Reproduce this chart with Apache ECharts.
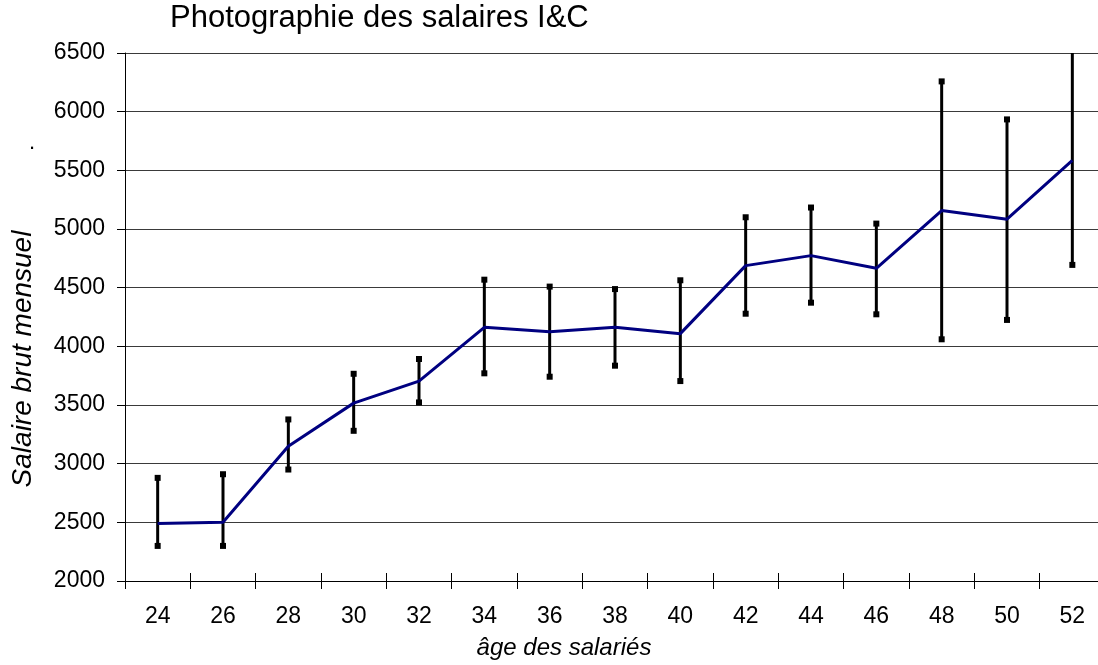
<!DOCTYPE html>
<html>
<head>
<meta charset="utf-8">
<script src="https://cdn.jsdelivr.net/npm/echarts@6/dist/echarts.min.js"></script>
<style>
  html, body { margin: 0; padding: 0; background: #fff; }
  #chart { width: 1098px; height: 665px; }
</style>
</head>
<body>
<div id="chart"></div>
<script>
// ages (categories)
const ages = ['24', '26', '28', '30', '32', '34', '36', '38', '40', '42', '44', '46', '48', '50', '52'];
// mean monthly gross salary
const salaireMoyen = [2490, 2501, 3149, 3516, 3704, 4162, 4125, 4162, 4108, 4688, 4773, 4665, 5157, 5084, 5584];
// error bars: low / high ends
const salaireBas = [2299, 2299, 2950, 3280, 3522, 3770, 3741, 3835, 3704, 4278, 4372, 4273, 4060, 4225, 4694];
const salaireHaut = [2879, 2910, 3377, 3766, 3892, 4568, 4509, 4488, 4563, 5100, 5183, 5046, 6258, 5934, 6700];
const yTicks = { min: 2000, max: 6500, step: 500 };

const font = 'Liberation Sans, Arial, sans-serif';

let barData = [];
for (let i = 0; i < ages.length; i++) {
  barData.push([i, salaireBas[i], salaireHaut[i]]);
}

const chart = echarts.init(document.getElementById('chart'));

chart.setOption({
  animation: false,
  backgroundColor: '#fff',
  // plot runs a little past the right edge of the picture
  grid: { left: 125, top: 53, width: 980, bottom: 84, outerBoundsMode: 'none', containLabel: false },
  graphic: [
    {
      type: 'text', left: 170, top: 3,
      style: { text: 'Photographie des salaires I&C', font: '31px ' + font, fill: '#000' }
    },
    {
      type: 'text', x: 564, y: 648,
      style: { text: 'âge des salariés', font: 'italic 24px ' + font, fill: '#000', align: 'center', verticalAlign: 'middle' }
    },
    {
      type: 'text', x: 23, y: 359, rotation: Math.PI / 2,
      style: { text: 'Salaire brut mensuel', font: 'italic 28px ' + font, fill: '#000', align: 'center', verticalAlign: 'middle' }
    },
    {
      type: 'text', x: 32, y: 143,
      style: { text: '.', font: '22px ' + font, fill: '#000', align: 'center', verticalAlign: 'middle' }
    }
  ],
  xAxis: [
    {
      type: 'category',
      data: ages,
      boundaryGap: true,
      axisLine: { lineStyle: { color: '#000', width: 1 } },
      axisTick: { show: true, length: 8, lineStyle: { color: '#000' } },
      axisLabel: { color: '#000', fontSize: 23, fontFamily: font, margin: 24 },
      splitLine: { show: false }
    },
    {
      type: 'category',
      data: ages,
      position: 'bottom',
      boundaryGap: true,
      axisLine: { show: false },
      axisTick: { show: true, inside: true, length: 8, lineStyle: { color: '#000' } },
      axisLabel: { show: false },
      splitLine: { show: false }
    }
  ],
  yAxis: {
    type: 'value',
    min: yTicks.min,
    max: yTicks.max,
    interval: yTicks.step,
    axisLine: { show: true, lineStyle: { color: '#000', width: 1 } },
    axisTick: { show: true, length: 8, lineStyle: { color: '#000' } },
    axisLabel: { color: '#000', fontSize: 23, fontFamily: font, margin: 20, formatter: v => String(v) },
    splitLine: { show: true, lineStyle: { color: '#3a3a3a', width: 1 } }
  },
  series: [
    {
      type: 'custom',
      clip: true,
      z: 2,
      data: barData,
      encode: { x: 0, y: [1, 2] },
      renderItem(params, api) {
        let lo = api.coord([api.value(0), api.value(1)]);
        let hi = api.coord([api.value(0), api.value(2)]);
        let s = 6;
        return {
          type: 'group',
          children: [
            { type: 'line', shape: { x1: lo[0], y1: lo[1], x2: hi[0], y2: hi[1] }, style: { stroke: '#000', lineWidth: 3 } },
            { type: 'rect', shape: { x: lo[0] - s / 2, y: lo[1] - s / 2, width: s, height: s }, style: { fill: '#000' } },
            { type: 'rect', shape: { x: hi[0] - s / 2, y: hi[1] - s / 2, width: s, height: s }, style: { fill: '#000' } }
          ]
        };
      }
    },
    {
      type: 'line',
      data: salaireMoyen,
      z: 3,
      symbol: 'none',
      lineStyle: { color: '#000080', width: 3 }
    }
  ]
});
</script>
</body>
</html>
